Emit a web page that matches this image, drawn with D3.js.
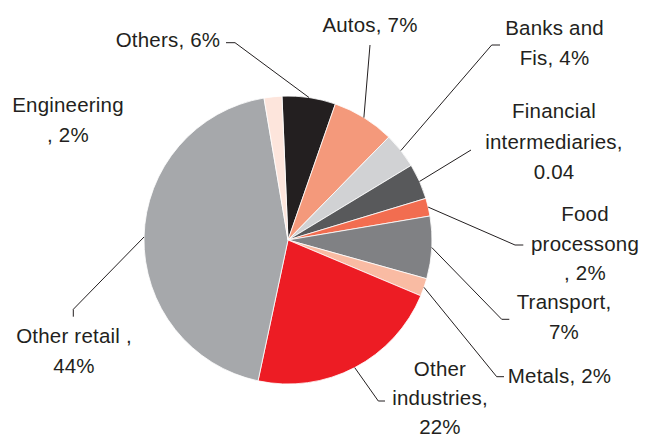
<!DOCTYPE html>
<html>
<head>
<meta charset="utf-8">
<script src="https://cdn.jsdelivr.net/npm/d3@7"></script>
<style>
  html, body { margin: 0; padding: 0; background: #ffffff; }
  svg { display: block; }
  .lbl { font-family: "Liberation Sans", Arial, sans-serif; font-size: 20.5px; fill: #231f20; letter-spacing: 0.2px; }
</style>
</head>
<body>
<svg id="chart" width="646" height="437"></svg>
<script>
// Sector exposure shares (%), clockwise from the top of the pie
const categories = ["Others", "Autos", "Banks and Fis", "Financial intermediaries", "Food processong",
                    "Transport", "Metals", "Other industries", "Other retail", "Engineering"];
const values = [6, 7, 4, 4, 2, 7, 2, 22, 44, 2];
const valueLabels = ["6%", "7%", "4%", "0.04", "2%", "7%", "2%", "22%", "44%", "2%"];
const labelLines = [
  ["Others, 6%"],
  ["Autos, 7%"],
  ["Banks and", "Fis, 4%"],
  ["Financial", "intermediaries,", "0.04"],
  ["Food", "processong", ", 2%"],
  ["Transport,", "7%"],
  ["Metals, 2%"],
  ["Other", "industries,", "22%"],
  ["Other retail ,", "44%"],
  ["Engineering", ", 2%"]
];
const colors = ["#231f20", "#f4997b", "#d1d2d4", "#58595b", "#f26d50",
                "#808184", "#f9bba3", "#ed1c24", "#a6a8ab", "#fde5dc"];

// Layout: label block centre x, first baseline y, line step, and leader start / elbow
const labelLayout = [
  { x: 168,   y: 47.3,  step: 29.6, lead: [[226, 42.7], [235, 42.7]] },
  { x: 370,   y: 31.7,  step: 29.6, lead: [[370, 45]] },
  { x: 554.5, y: 35,    step: 29.6, lead: [[500, 45], [491.7, 45]] },
  { x: 554,   y: 118.3, step: 30.4, lead: [[471, 150]] },
  { x: 585,   y: 220.7, step: 29.8, lead: [[523.3, 245], [515, 245]] },
  { x: 564,   y: 309.3, step: 29.6, lead: [[509.3, 319.3], [501.7, 319.3]] },
  { x: 559.5, y: 383.3, step: 29.6, lead: [[504, 376.7], [496.7, 376.7]] },
  { x: 440,   y: 376.2, step: 29.0, lead: [[385, 401], [378.3, 401]] },
  { x: 74,    y: 343.3, step: 29.2, lead: [[73.3, 316.7], [73.3, 309.3]] },
  { x: 68,    y: 111.7, step: 30.0, lead: null }
];

const svg = d3.select("#chart");
const cx = 288, cy = 240, radius = 144;
const start = -2.4 * Math.PI / 180;

const data = categories.map((c, i) => ({ name: c, value: values[i], index: i }));

const pie = d3.pie().value(d => d.value).sort(null)
  .startAngle(start).endAngle(start + 2 * Math.PI);
const arc = d3.arc().innerRadius(0).outerRadius(radius);
const arcs = pie(data);

const g = svg.append("g").attr("transform", `translate(${cx},${cy})`);
g.selectAll("path.slice")
  .data(arcs)
  .join("path")
  .attr("class", "slice")
  .attr("d", arc)
  .attr("fill", d => colors[d.data.index])
  .attr("stroke", "#ffffff")
  .attr("stroke-width", 0.8);

// Leader lines from each label to the middle of its slice's rim
const line = d3.line();
arcs.forEach(d => {
  const lay = labelLayout[d.data.index];
  if (!lay.lead) return;
  const mid = (d.startAngle + d.endAngle) / 2;
  const rim = [cx + radius * Math.sin(mid), cy - radius * Math.cos(mid)];
  svg.append("path")
    .attr("d", line([...lay.lead, rim]))
    .attr("fill", "none")
    .attr("stroke", "#231f20")
    .attr("stroke-width", 1);
});

// Category labels
labelLines.forEach((lines, i) => {
  const lay = labelLayout[i];
  const t = svg.append("text")
    .attr("class", "lbl")
    .attr("text-anchor", "middle");
  lines.forEach((s, k) => {
    t.append("tspan")
      .attr("x", lay.x)
      .attr("y", lay.y + k * lay.step)
      .text(s);
  });
});
</script>
</body>
</html>
